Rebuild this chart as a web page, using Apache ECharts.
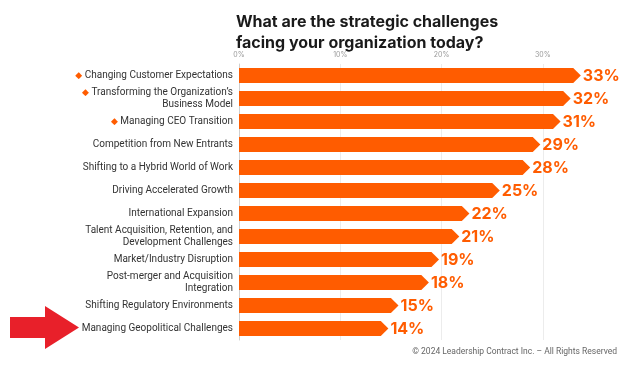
<!DOCTYPE html>
<html>
<head>
<meta charset="utf-8">
<script src="https://cdn.jsdelivr.net/npm/echarts@6/dist/echarts.min.js"></script>
<style>html,body{margin:0;padding:0;background:#fff;}#c{width:624px;height:367px;}</style>
</head>
<body>
<div id="c"></div>
<script>
const categories = [
  "Changing Customer Expectations",
  "Transforming the Organization\u2019s\nBusiness Model",
  "Managing CEO Transition",
  "Competition from New Entrants",
  "Shifting to a Hybrid World of Work",
  "Driving Accelerated Growth",
  "International Expansion",
  "Talent Acquisition, Retention, and\nDevelopment Challenges",
  "Market/Industry Disruption",
  "Post-merger and Acquisition\nIntegration",
  "Shifting Regulatory Environments",
  "Managing Geopolitical Challenges"
];
const values = [33, 32, 31, 29, 28, 25, 22, 21, 19, 18, 15, 14];
const highlighted = [true, true, true, false, false, false, false, false, false, false, false, false];
const tickLabels = ["0%", "10%", "20%", "30%"];

const ORANGE = '#ff5c00';
const FONT = 'Inter, "Noto Sans", sans-serif';
const LFONT = 'Roboto, "Noto Sans", sans-serif';

const chart = echarts.init(document.getElementById('c'), null, {renderer: 'canvas'});

const option = {
  backgroundColor: '#fff',
  animation: false,
  title: {
    text: 'What are the strategic challenges\nfacing your organization today?',
    left: 231, top: 7,
    textStyle: {fontFamily: FONT, fontWeight: 'bold', fontSize: 16, lineHeight: 21, color: '#1a1a1a'}
  },
  grid: {left: 239, right: 30.5, top: 64, bottom: 27, containLabel: false},
  xAxis: {
    type: 'value', position: 'top', min: 0, max: 35, interval: 10,
    axisLine: {show: false}, axisTick: {show: false},
    axisLabel: {
      margin: 6, fontSize: 7, color: '#999', fontFamily: FONT, showMaxLabel: false,
      formatter: v => (v % 10 === 0 ? tickLabels[v / 10] : '')
    },
    splitLine: {showMaxLine: false, lineStyle: {color: '#ececec', width: 1}}
  },
  yAxis: {
    type: 'category', data: categories, inverse: true,
    axisLine: {show: true, lineStyle: {color: '#cfcfcf'}},
    axisTick: {show: false},
    axisLabel: {
      margin: 6, fontSize: 10, color: '#333', fontFamily: LFONT, align: 'right', lineHeight: 12,
      formatter: (v, i) => (highlighted[i] ? '{d|\u25C6} ' : '') + v,
      rich: {d: {color: ORANGE, fontSize: 9, fontFamily: 'DejaVu Sans'}}
    }
  },
  series: [{
    type: 'custom',
    data: values.map((v, i) => [v, i]),
    encode: {x: 0, y: 1},
    renderItem: function (params, api) {
      const v = api.value(0), idx = api.value(1);
      const s = api.coord([0, idx]);
      const e = api.coord([v, idx]);
      const h = api.size([0, 1])[1] * 0.66;
      const tip = h / 2;
      const cy = s[1];
      return {
        type: 'group',
        children: [{
          type: 'polygon',
          shape: {points: [[s[0], cy - h / 2], [e[0], cy - h / 2], [e[0] + tip, cy], [e[0], cy + h / 2], [s[0], cy + h / 2]]},
          style: {fill: ORANGE}
        }, {
          type: 'text',
          x: e[0] + tip + 2, y: cy + 1,
          style: {text: v + '%', fill: ORANGE, font: 'bold 16px ' + FONT, verticalAlign: 'middle', align: 'left'}
        }]
      };
    }
  }],
  graphic: [
    {
      type: 'polygon',
      shape: {points: [[10, 317], [45, 317], [45, 306], [79, 327.5], [45, 349], [45, 338], [10, 338]]},
      style: {fill: '#e8202a'}
    },
    {
      type: 'text', right: 7, top: 347,
      style: {text: '\u00A9 2024 Leadership Contract Inc. \u2013 All Rights Reserved', fill: '#666', font: '8.5px ' + LFONT}
    }
  ]
};
chart.setOption(option);
</script>
</body>
</html>
